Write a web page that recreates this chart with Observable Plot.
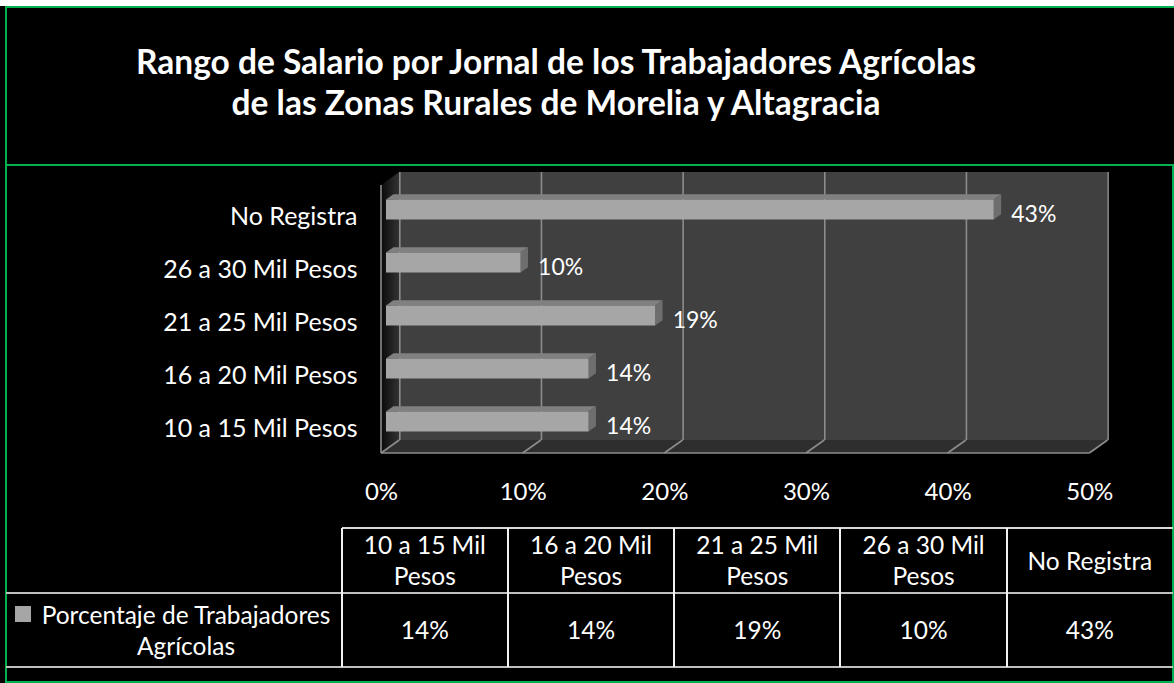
<!DOCTYPE html>
<html>
<head>
<meta charset="utf-8">
<script src="https://cdn.jsdelivr.net/npm/d3@7"></script>
<script src="https://cdn.jsdelivr.net/npm/@observablehq/plot@0.6"></script>
<style>
  html, body { margin: 0; padding: 0; background: #000; }
  #page { position: relative; width: 1174px; height: 683px; background: #000; overflow: hidden;
          font-family: Lato, "Open Sans", sans-serif; color: #fff; }
  .abs { position: absolute; }
  .green { position: absolute; background: #00b050; }
  #title { position: absolute; left: 0; width: 1112px; top: 41px; text-align: center;
           font-weight: bold; font-size: 33.5px; line-height: 41px; white-space: pre; }
  .hline { position: absolute; height: 2px; background: #bfbfbf; }
  .vline { position: absolute; width: 2px; background: #f2f2f2; }
  .cell { position: absolute; display: flex; align-items: center; justify-content: center;
          text-align: center; font-size: 24.5px; line-height: 31px; white-space: pre-line; }
  #chart { position: absolute; left: 0; top: 167px; }
</style>
</head>
<body>
<div id="page">
  <div class="abs" style="left:0;top:0;width:1174px;height:6px;background:#fff;"></div>
  <div class="green" style="left:5px;top:6px;width:1169px;height:2px;"></div>
  <div class="green" style="left:5px;top:6px;width:2px;height:677px;"></div>
  <div class="green" style="left:5px;top:164px;width:1169px;height:2px;"></div>
  <div class="green" style="left:1172px;top:164px;width:2px;height:519px;"></div>
  <div class="green" style="left:5px;top:681px;width:1169px;height:2px;"></div>
  <div id="title"></div>
  <div id="chart"></div>
  <div id="table"></div>
</div>
<script>
// ---- data ----
const titleLines = ["Rango de Salario por Jornal de los Trabajadores Agrícolas",
                    "de las Zonas Rurales de Morelia y Altagracia"];
const categories = ["10 a 15 Mil Pesos", "16 a 20 Mil Pesos", "21 a 25 Mil Pesos", "26 a 30 Mil Pesos", "No Registra"];
const values = [0.143, 0.143, 0.190, 0.095, 0.429];
const valueLabels = ["14%", "14%", "19%", "10%", "43%"];
const xTicks = [0, 0.1, 0.2, 0.3, 0.4, 0.5];
const seriesName = "Porcentaje de Trabajadores Agrícolas";

const rows = categories.map((c, i) => ({cat: c, value: values[i], label: valueLabels[i]}));

document.getElementById("title").textContent = titleLines.join("\n");

// ---- 3D geometry offsets (pixels) ----
const DX = 18.3, DY = -13;   // wall depth
const BX = 5, BY = -3.5;     // bar front face depth
const EX = 7.4, EY = -5.3;   // bar extrusion
const gridColor = "#8c8c8c";

function walls(index, scales, values, dims) {
  const top = dims.marginTop, bot = dims.height - dims.marginBottom;
  const x0 = scales.x(0), x1 = scales.x(0.5);
  const g = d3.create("svg:g");
  const defs = g.append("defs");
  const lg = defs.append("linearGradient").attr("id", "lw").attr("x1", 0).attr("x2", 1).attr("y1", 0).attr("y2", 0);
  lg.append("stop").attr("offset", "0%").attr("stop-color", "#0a0a0a");
  lg.append("stop").attr("offset", "100%").attr("stop-color", "#333333");
  g.append("rect").attr("x", x0 + DX).attr("y", top + DY).attr("width", x1 - x0).attr("height", bot - top).attr("fill", "#404040");
  g.append("path").attr("d", `M${x0},${bot}L${x1},${bot}L${x1 + DX},${bot + DY}L${x0 + DX},${bot + DY}Z`).attr("fill", "#2e2e2e");
  g.append("path").attr("d", `M${x0},${top}L${x0 + DX},${top + DY}L${x0 + DX},${bot + DY}L${x0},${bot}Z`).attr("fill", "url(#lw)");
  return g.node();
}

function floorLines(index, scales, values, dims) {
  const top = dims.marginTop, bot = dims.height - dims.marginBottom;
  const g = d3.create("svg:g").attr("stroke", gridColor).attr("stroke-width", 1.6).attr("fill", "none");
  for (const t of xTicks) {
    const x = scales.x(t);
    g.append("line").attr("x1", x).attr("y1", bot).attr("x2", x + DX).attr("y2", bot + DY);
  }
  g.append("line").attr("x1", scales.x(0)).attr("y1", bot).attr("x2", scales.x(0.5)).attr("y2", bot);
  g.append("line").attr("x1", scales.x(0)).attr("y1", top).attr("x2", scales.x(0)).attr("y2", bot);
  return g.node();
}

function barFaces(index, scales, values, dims) {
  const bw = scales.y.bandwidth ? scales.y.bandwidth() : 20.6;
  const g = d3.create("svg:g");
  for (const r of rows) {
    const xs = scales.x(0) + BX, xe = scales.x(r.value) + BX;
    const yt = scales.y(r.cat) + BY, yb = yt + bw;
    g.append("path").attr("d", `M${xs},${yt}L${xs + EX},${yt + EY}L${xe + EX},${yt + EY}L${xe},${yt}Z`).attr("fill", "#808080");
    g.append("path").attr("d", `M${xe},${yt}L${xe + EX},${yt + EY}L${xe + EX},${yb + EY}L${xe},${yb}Z`).attr("fill", "#6e6e6e");
  }
  return g.node();
}

const chart = Plot.plot({
  width: 1174,
  height: 353,
  marginTop: 18,
  marginBottom: 67,
  marginLeft: 381,
  marginRight: 84.7,
  style: {background: "transparent", color: "#fff", fontFamily: "Lato, 'Open Sans', sans-serif", overflow: "visible"},
  x: {domain: [0, 0.5]},
  y: {domain: categories.slice().reverse(), paddingInner: 0.615, paddingOuter: 0.32},
  marks: [
    walls,
    Plot.ruleX(xTicks, {stroke: gridColor, strokeWidth: 1.6, dx: DX, dy: DY}),
    floorLines,
    barFaces,
    Plot.barX(rows, {x: "value", y: "cat", fill: "#a6a6a6", dx: BX, dy: BY}),
    Plot.text(rows, {x: "value", y: "cat", text: "label", textAnchor: "start", dx: BX + 17, dy: 1,
                     fill: "#fff", fontSize: 23}),
    Plot.axisX({ticks: xTicks, tickFormat: d3.format(".0%"), tickSize: 0, tickPadding: 29,
                fontSize: 24, fill: "#fff", label: null}),
    Plot.axisY({tickSize: 0, tickPadding: 24, fontSize: 25, dy: 3, fill: "#fff", label: null})
  ]
});
document.getElementById("chart").appendChild(chart);

// ---- data table ----
const table = document.getElementById("table");
const tTop = 527.7, tMid = 592.7, tBot = 666.7, tLeft = 341.7, tRight = 1173;
const colW = (tRight - tLeft) / categories.length;
function add(cls, style, text) {
  const d = document.createElement("div");
  d.className = cls;
  Object.assign(d.style, style);
  if (text != null) d.textContent = text;
  table.appendChild(d);
  return d;
}
add("hline", {left: tLeft + "px", top: (tTop - 1) + "px", width: (tRight - tLeft) + "px", background: "#d9d9d9"});
add("hline", {left: "6px", top: (tMid - 1) + "px", width: (tRight - 6) + "px"});
add("hline", {left: "6px", top: (tBot - 1) + "px", width: (tRight - 6) + "px"});
categories.forEach((c, i) => {
  const left = tLeft + i * colW;
  add("vline", {left: (left - 1) + "px", top: tTop + "px", height: (tBot - tTop) + "px"});
  add("cell", {left: left + "px", top: tTop + "px", width: colW + "px", height: (tMid - tTop) + "px"},
      c.replace(" Pesos", "\nPesos"));
  add("cell", {left: left + "px", top: tMid + "px", width: colW + "px", height: (tBot - tMid) + "px"},
      valueLabels[i]);
});
const cut = seriesName.lastIndexOf(" ");
add("cell", {left: "33px", top: tMid + "px", width: "306px", height: (tBot - tMid) + "px", whiteSpace: "pre"},
    seriesName.slice(0, cut) + "\n" + seriesName.slice(cut + 1));
add("abs", {left: "15px", top: "606px", width: "16px", height: "16px", background: "#a6a6a6"});
</script>
</body>
</html>
